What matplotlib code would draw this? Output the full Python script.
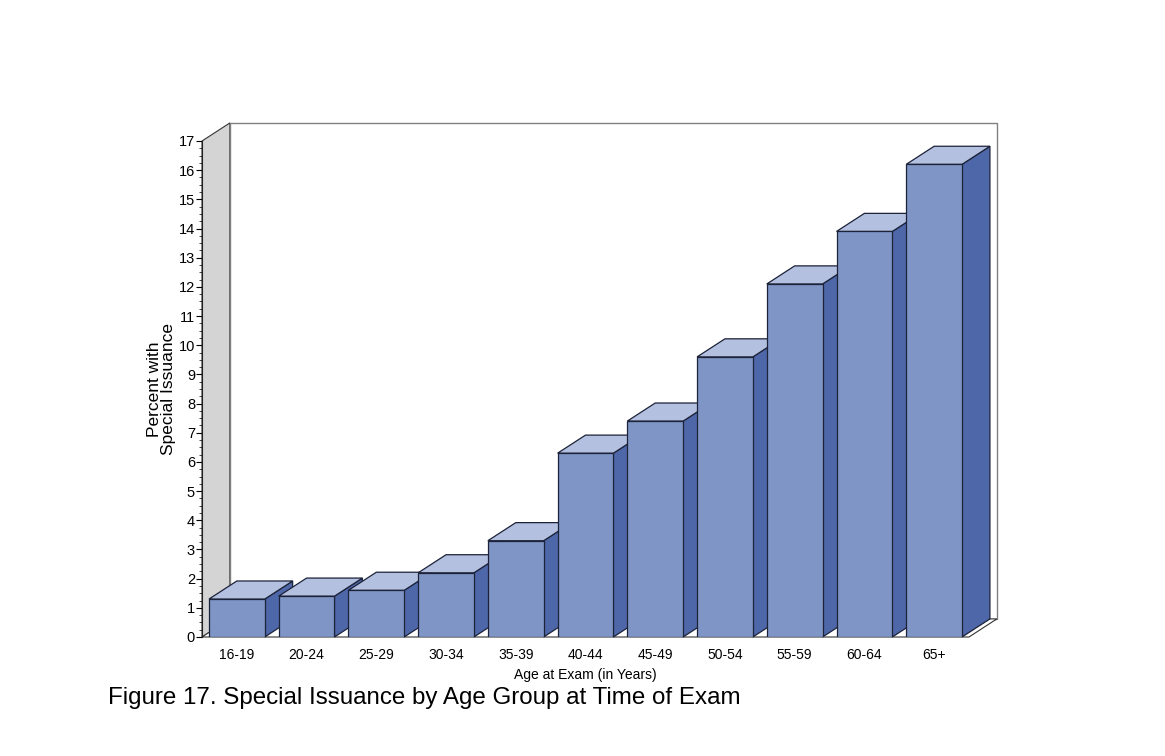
import matplotlib
matplotlib.use("Agg")
import matplotlib.pyplot as plt
from matplotlib.patches import Polygon
from matplotlib.ticker import MultipleLocator
import numpy as np

plt.rcParams['font.family'] = ['Liberation Sans', 'DejaVu Sans']

ages = ['16-19', '20-24', '25-29', '30-34', '35-39', '40-44',
        '45-49', '50-54', '55-59', '60-64', '65+']
pct = [1.3, 1.4, 1.6, 2.2, 3.3, 6.3, 7.4, 9.6, 12.1, 13.9, 16.2]

front_col = '#7f95c6'
top_col = '#b3c0e0'
side_col = '#4e67a9'
edge_col = '#1c2238'

fig = plt.figure(figsize=(11.65, 7.56), dpi=100)
ax = fig.add_axes([202 / 1165, 1 - 637 / 756, 767 / 1165, 496 / 756])

x = np.arange(len(ages))
ymax = 17
x0, x1 = -0.5, len(ages) - 0.5
w = 0.8
# depth of the fake 3d, in data units
dx, dy = 0.40, 0.62

ax.set_xlim(x0, x1)
ax.set_ylim(0, ymax)

# side wall, back wall, floor
ax.add_patch(Polygon([(x0, 0), (x0 + dx, dy), (x0 + dx, ymax + dy), (x0, ymax)],
                     closed=True, fc='#d4d4d4', ec='#333333', lw=0.8,
                     clip_on=False, zorder=0))
ax.add_patch(Polygon([(x0 + dx, dy), (x1 + dx, dy), (x1 + dx, ymax + dy), (x0 + dx, ymax + dy)],
                     closed=True, fc='white', ec='#808080', lw=1.0,
                     clip_on=False, zorder=0))
ax.add_patch(Polygon([(x0, 0), (x1, 0), (x1 + dx, dy), (x0 + dx, dy)],
                     closed=True, fc='white', ec='#333333', lw=0.8,
                     clip_on=False, zorder=0.5))

for xi, v in zip(x, pct):
    l, r = xi - w / 2, xi + w / 2
    ax.add_patch(Polygon([(r, 0), (r + dx, dy), (r + dx, v + dy), (r, v)],
                         closed=True, fc=side_col, ec=edge_col, lw=0.9,
                         clip_on=False, zorder=2))
    ax.add_patch(Polygon([(l, v), (r, v), (r + dx, v + dy), (l + dx, v + dy)],
                         closed=True, fc=top_col, ec=edge_col, lw=0.9,
                         clip_on=False, zorder=2))
ax.bar(x, pct, width=w, color=front_col, edgecolor=edge_col, linewidth=0.9, zorder=3)

for s in ['top', 'right', 'bottom']:
    ax.spines[s].set_visible(False)
ax.spines['left'].set_color('#222222')
ax.spines['left'].set_linewidth(0.8)

ax.set_xticks(x)
ax.set_xticklabels(ages, fontsize=10)
ax.tick_params(axis='x', length=0, pad=8)
ax.set_yticks(range(0, ymax + 1))
ax.yaxis.set_minor_locator(MultipleLocator(0.25))
ax.tick_params(axis='y', which='major', length=4, width=0.8, labelsize=10.5, pad=1)
ax.tick_params(axis='y', which='minor', length=2, width=0.5)

ax.set_xlabel('Age at Exam (in Years)', fontsize=10, labelpad=4)
ax.set_ylabel('Percent with\nSpecial Issuance', fontsize=12.5, linespacing=0.95, labelpad=2)

fig.text(108 / 1165, 1 - 698 / 756, 'Figure 17. Special Issuance by Age Group at Time of Exam',
         fontsize=17.4, ha='left', va='center')

fig.savefig('out.png', dpi=100)
